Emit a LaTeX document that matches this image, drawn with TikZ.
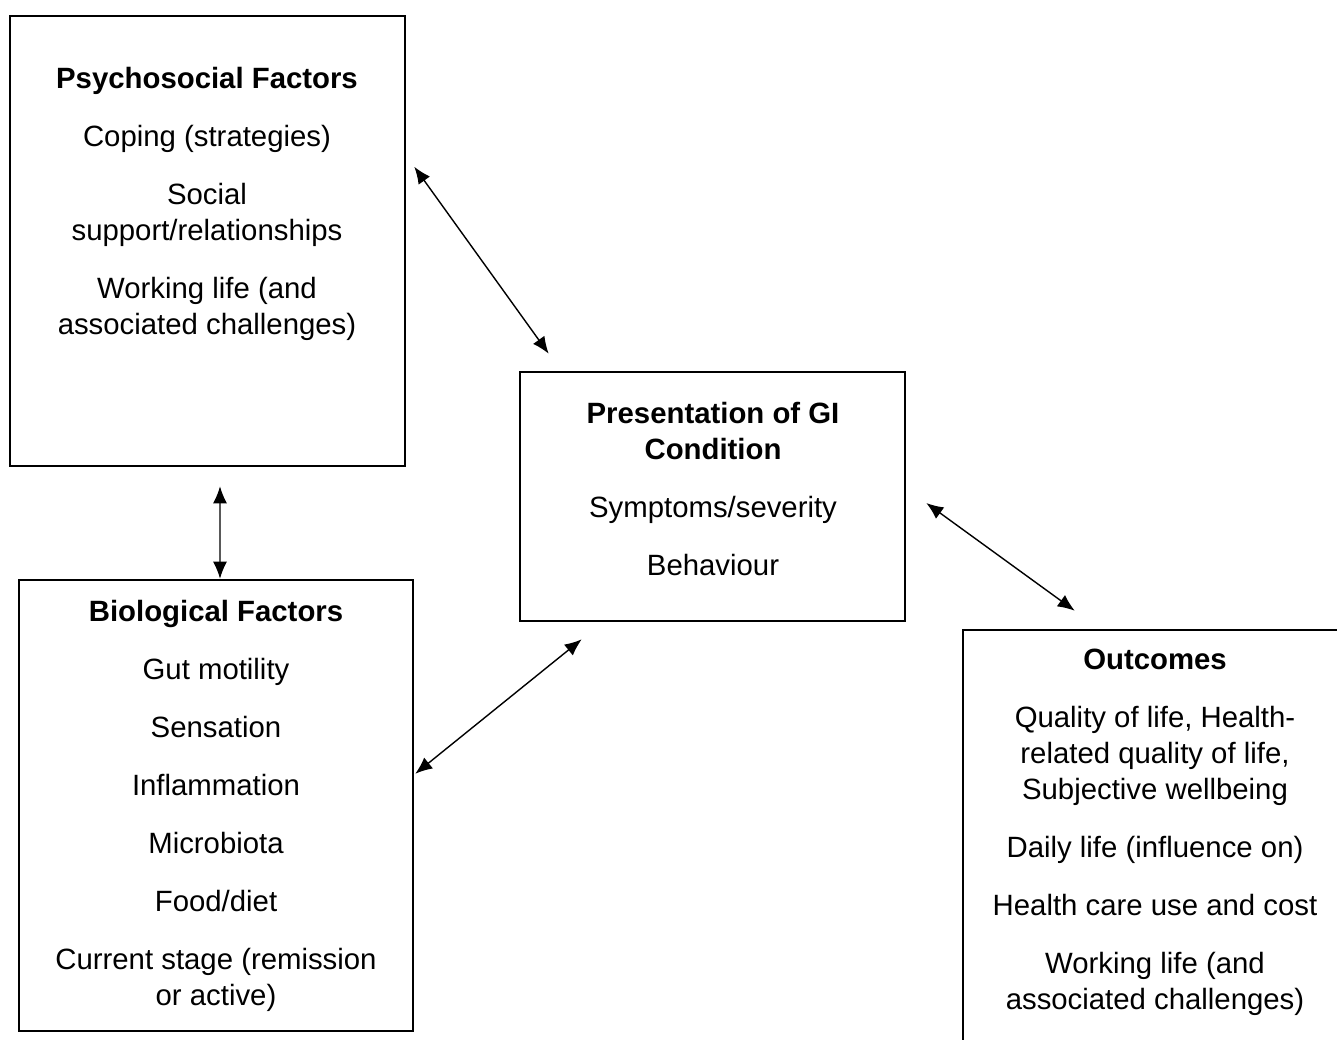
\documentclass[tikz,border=0pt]{standalone}
\usepackage{fontspec}
\setmainfont{Liberation Sans}
\usetikzlibrary{arrows.meta}
\begin{document}
\begin{tikzpicture}[x=0.02cm,y=-0.02cm,
  box/.style={draw,line width=1.5pt,inner sep=0pt},
  txt/.style={align=center,inner sep=0pt,font=\fontsize{16.7pt}{20.5pt}\selectfont},
  link/.style={line width=0.8pt,{Latex[length=0.34cm,width=0.28cm]}-{Latex[length=0.34cm,width=0.28cm]}}]
\path[use as bounding box,clip] (0,0) rectangle (1337,1039);

% boxes
\node[box,minimum width=7.9cm,minimum height=9cm] (psy) at (207.5,241) {};
\node[box,minimum width=7.88cm,minimum height=9.02cm] (bio) at (216,805.5) {};
\node[box,minimum width=7.7cm,minimum height=4.98cm] (pres) at (712.5,496.5) {};
\node[box,minimum width=7.64cm,minimum height=8.3cm] (out) at (1154,837.5) {};

% texts
\node[txt] (psytext) at (207,204) {\textbf{Psychosocial Factors}\\[0.44cm]
  Coping (strategies)\\[0.44cm]
  Social\\ support/relationships\\[0.44cm]
  Working life (and\\ associated challenges)};

\node[txt] (biotext) at (216,805.5) {\textbf{Biological Factors}\\[0.44cm]
  Gut motility\\[0.44cm]
  Sensation\\[0.44cm]
  Inflammation\\[0.44cm]
  Microbiota\\[0.44cm]
  Food/diet\\[0.44cm]
  Current stage (remission\\ or active)};

\node[txt] (prestext) at (713,489) {\textbf{Presentation of GI}\\ \textbf{Condition}\\[0.44cm]
  Symptoms/severity\\[0.44cm]
  Behaviour};

\node[txt] (outtext) at (1155,832) {\textbf{Outcomes}\\[0.44cm]
  Quality of life, Health-\\ related quality of life,\\ Subjective wellbeing\\[0.44cm]
  Daily life (influence on)\\[0.44cm]
  Health care use and cost\\[0.44cm]
  Working life (and\\ associated challenges)};

% arrows
\draw[link] ([shift={(8,152)}]psy.north east) -- ([shift={(30,-17)}]pres.north west);
\draw[link] ([shift={(12.5,19)}]psy.south) -- ([shift={(4,0)}]bio.north);
\draw[link] ([shift={(1,195)}]bio.north east) -- ([shift={(63,17)}]pres.south west);
\draw[link] ([shift={(20,6.5)}]pres.east) -- ([shift={(113,-18)}]out.north west);
\end{tikzpicture}
\end{document}
